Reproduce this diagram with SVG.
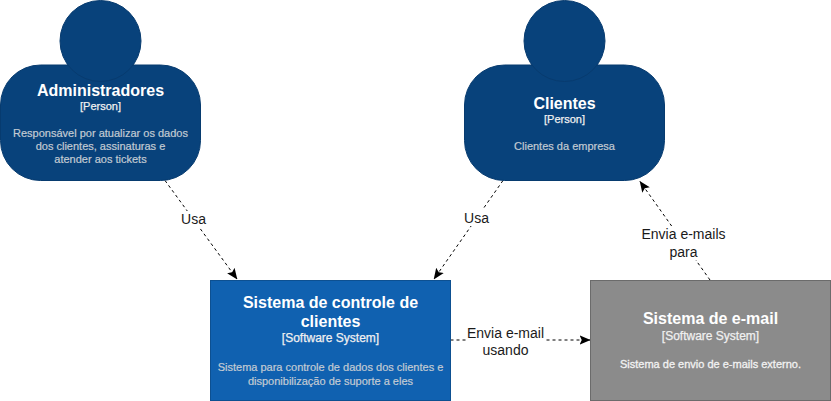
<svg xmlns="http://www.w3.org/2000/svg" width="831" height="401" viewBox="0 0 831 401">
<style>
text{font-family:"Liberation Sans",Arial,sans-serif;text-anchor:middle}
.person{fill:#08427b;stroke:#073b6f;stroke-width:1}
.sys{fill:#1061b0;stroke:#0d5091;stroke-width:1}
.ext{fill:#8b8b8b;stroke:#6b6b6b;stroke-width:1}
.t{font-size:16px;font-weight:bold;fill:#fff}
.k{font-size:11px;fill:#f0f0f0;stroke:#f0f0f0;stroke-width:.25}
.k2{font-size:12px}
.d{font-size:11px;fill:#c3cbd3;stroke:#c3cbd3;stroke-width:.2}
.d2{fill:#f2f2f2;stroke:#f2f2f2;stroke-width:.3}
.ed{fill:none;stroke:#000;stroke-width:1;stroke-dasharray:3 3}
.l{font-size:14px;fill:#1a1a1a}
.bg{fill:#fff}
</style>
<defs>
<marker id="a" viewBox="0 0 10 10" refX="9.500" refY="5" markerWidth="11" markerHeight="11" markerUnits="userSpaceOnUse" orient="auto"><path d="M0 0.800 L10 5 L0 9.200 L2 5 Z" fill="#000"/></marker>
</defs>
<g id="connectors">
<path class="ed" marker-end="url(#a)" d="M165 180.500 L237 279"/>
<path class="ed" marker-end="url(#a)" d="M503 180.500 L434 279"/>
<path class="ed" marker-end="url(#a)" d="M450.500 340 L590 340"/>
<path class="ed" marker-end="url(#a)" d="M710 280 L640 181.500"/>
<rect class="bg" x="180" y="211" width="27" height="16"/>
<rect class="bg" x="463" y="210" width="27" height="16"/>
<rect class="bg" x="466" y="325" width="80" height="33"/>
<rect class="bg" x="641" y="226" width="85" height="34"/>
<text class="l" x="193.500" y="224">Usa</text>
<text class="l" x="476.500" y="223">Usa</text>
<text class="l" x="505.500" y="338">Envia e-mail</text>
<text class="l" x="505.500" y="355">usando</text>
<text class="l" x="683.500" y="239">Envia e-mails</text>
<text class="l" x="683.500" y="257">para</text>
</g>
<g id="administradores">
<rect class="person" x="0.500" y="65" width="200" height="115.500" rx="40" ry="40"/>
<circle class="person" cx="100.500" cy="41" r="40.500"/>
<text class="t" x="100.500" y="96">Administradores</text>
<text class="k" x="100.500" y="110">[Person]</text>
<text class="d" x="100.500" y="137">Responsável por atualizar os dados</text>
<text class="d" x="100.500" y="150">dos clientes, assinaturas e</text>
<text class="d" x="100.500" y="163">atender aos tickets</text>
</g>
<g id="clientes">
<rect class="person" x="464.500" y="65" width="200" height="115.500" rx="40" ry="40"/>
<circle class="person" cx="564.500" cy="41" r="40.500"/>
<text class="t" x="564.500" y="109">Clientes</text>
<text class="k" x="564.500" y="123">[Person]</text>
<text class="d" x="564.500" y="150">Clientes da empresa</text>
</g>
<g id="sistema-controle">
<rect class="sys" x="210.500" y="280.500" width="240" height="120"/>
<text class="t" x="330.500" y="308">Sistema de controle de</text>
<text class="t" x="330.500" y="327">clientes</text>
<text class="k k2" x="330.500" y="342">[Software System]</text>
<text class="d" x="330.500" y="371">Sistema para controle de dados dos clientes e</text>
<text class="d" x="330.500" y="385">disponibilização de suporte a eles</text>
</g>
<g id="sistema-email">
<rect class="ext" x="590.500" y="280.500" width="240" height="120"/>
<text class="t" x="710.500" y="324">Sistema de e-mail</text>
<text class="k k2" x="710.500" y="340">[Software System]</text>
<text class="d d2" x="710.500" y="368">Sistema de envio de e-mails externo.</text>
</g>
</svg>
